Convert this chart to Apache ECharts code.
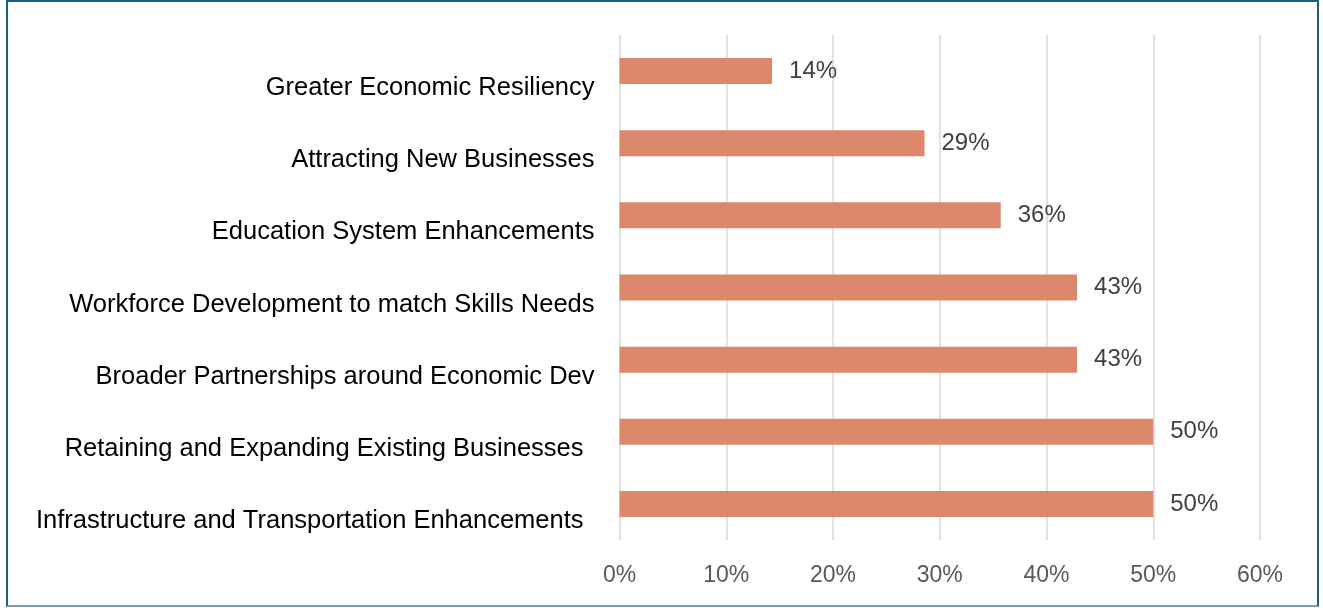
<!DOCTYPE html>
<html>
<head>
<meta charset="utf-8">
<script src="https://cdn.jsdelivr.net/npm/echarts@6/dist/echarts.min.js"></script>
<style>
html,body{margin:0;padding:0;background:#fff;}
#frame{position:absolute;left:6px;top:0;width:1309px;height:603px;border:2px solid #1B5E82;border-bottom-color:#7E9CB2;}
#chart{position:absolute;left:0;top:0;width:1323px;height:608px;}
</style>
</head>
<body>
<div id="frame"></div>
<div id="chart"></div>
<script>
const categories = [
  "Infrastructure and Transportation Enhancements ",
  "Retaining and Expanding Existing Businesses ",
  "Broader Partnerships around Economic Dev",
  "Workforce Development to match Skills Needs",
  "Education System Enhancements",
  "Attracting New Businesses",
  "Greater Economic Resiliency"
];
const values = [50, 50, 42.86, 42.86, 35.71, 28.57, 14.29];
const tickLabels = ["0%","10%","20%","30%","40%","50%","60%"];

const chart = echarts.init(document.getElementById('chart'));
const font = "'Liberation Sans', Arial, sans-serif";
const catStyle = {color: '#000', fontFamily: font, fontSize: 25.5, lineHeight: 34};
chart.setOption({
  animation: false,
  grid: {left: 619.5, right: 63, top: 35, bottom: 68, containLabel: false},
  xAxis: {
    type: 'value', min: 0, max: 60, interval: 10,
    axisLine: {show: false}, axisTick: {show: false},
    splitLine: {show: true, lineStyle: {color: '#D9D9D9', width: 1.5}},
    axisLabel: {
      formatter: v => tickLabels[Math.round(v / 10)],
      color: '#595959', fontFamily: font, fontSize: 23, margin: 24
    }
  },
  yAxis: {
    type: 'category', data: categories,
    axisLine: {show: false}, axisTick: {show: false},
    axisLabel: {
      color: '#000', fontFamily: font, fontSize: 25.5, margin: 25,
      verticalAlign: 'top', lineHeight: 34,
      formatter: v => v.endsWith(' ') ? '{s|' + v.trim() + '}' : '{n|' + v + '}',
      rich: {
        n: Object.assign({}, catStyle),
        s: Object.assign({padding: [0, 11, 0, 0]}, catStyle)
      }
    }
  },
  series: [{
    type: 'bar', data: values, barWidth: 26,
    itemStyle: {color: '#DD876B'},
    label: {
      show: true, position: 'right', distance: 17,
      formatter: p => Math.round(p.value) + '%',
      color: '#404040', fontFamily: font, fontSize: 24
    }
  }]
});
</script>
</body>
</html>
